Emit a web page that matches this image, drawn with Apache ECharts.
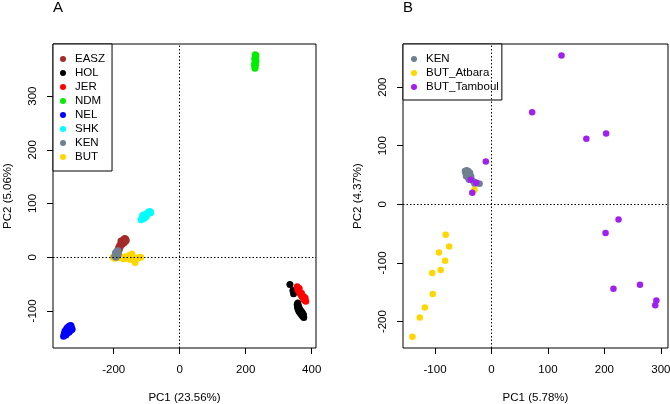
<!DOCTYPE html>
<html>
<head>
<meta charset="utf-8">
<script src="https://cdn.jsdelivr.net/npm/echarts@6/dist/echarts.min.js"></script>
<style>html,body{margin:0;padding:0;background:#fff;}#c{width:670px;height:404px;}</style>
</head>
<body>
<div id="c"></div>
<script>
// ---- Panel A data (PC1, PC2) ----
const namesA = ['EASZ','HOL','JER','NDM','NEL','SHK','KEN','BUT'];
const colorsA = ['#A52A2A','#000000','#FF0000','#00EE00','#0000FF','#00FFFF','#708090','#FFD700'];
const EASZ = [[-188,12],[-186,8],[-185,18],[-183,15],[-182,22],[-180,20],[-178,25],[-178,30],[-175,28],[-174,24],[-172,30],[-170,33],[-168,27],[-167,35],[-165,30],[-164,34],[-162,31]];
const HOL = [[334,-51],[343,-62],[345,-68],[356,-88],[357,-93],[358,-85],[359,-97],[360,-91],[361,-100],[363,-96],[364,-103],[367,-105],[368,-100],[370,-108],[372,-104],[373,-110],[375,-107],[376,-112]];
const JER = [[356,-55],[358,-60],[361,-63],[362,-58],[364,-66],[367,-69],[369,-67],[370,-72],[373,-75],[375,-73],[376,-78],[379,-80],[380,-76],[382,-82]];
const NDM = [[228,352],[227,357],[229,356],[227,360],[230,360],[230,364],[231,366],[228,368],[228,370],[229,372],[231,375],[229,377]];
const NEL = [[-352,-147],[-350,-143],[-348,-138],[-347,-140],[-345,-145],[-345,-136],[-342,-132],[-340,-141],[-338,-130],[-337,-134],[-335,-139],[-334,-128],[-330,-127],[-330,-136],[-328,-131],[-326,-134]];
const SHK = [[-117,70],[-114,73],[-112,78],[-110,75],[-108,72],[-106,77],[-103,80],[-101,76],[-100,79],[-97,82],[-94,84],[-90,85],[-88,83]];
const KEN_A = [[-197,2],[-195,8],[-193,5],[-193,0],[-191,11],[-190,7],[-189,3],[-187,12],[-186,6]];
const BUT = [[-202,0],[-198,-2],[-190,2],[-185,-1],[-178,0],[-170,-3],[-165,1],[-160,-2],[-152,3],[-150,-4],[-145,6],[-140,-1],[-135,-10],[-132,-3],[-125,-1],[-118,0]];
const seriesDataA = [EASZ, HOL, JER, NDM, NEL, SHK, KEN_A, BUT];

// ---- Panel B data (PC1, PC2) ----
const namesB = ['KEN','BUT_Atbara','BUT_Tamboul'];
const colorsB = ['#708090','#FFD700','#A020F0'];
const KEN_B = [[-47,57],[-44,58],[-41,57],[-46,53],[-43,51],[-40,52],[-38,54],[-45,48],[-42,46],[-39,47],[-36,48],[-37,44],[-40,42],[-35,42],[-33,40],[-31,38],[-28,37],[-30,35],[-25,36],[-21,35]];
const BUT_Atbara = [[-81,-52],[-75,-72],[-93,-82],[-82,-96],[-90,-112],[-105,-117],[-104,-153],[-118,-176],[-127,-193],[-140,-226],[-30,25]];
const BUT_Tamboul = [[124,254],[72,157],[168,112],[203,121],[-10,73],[-37,42],[-27,37],[-34,20],[202,-49],[225,-26],[216,-144],[263,-137],[292,-164],[290,-172]];
const seriesDataB = [KEN_B, BUT_Atbara, BUT_Tamboul];

// ---- Axis ticks ----
const xTicksA = [-200,0,200,400];
const yTicksA = [-100,0,100,200,300];
const xTicksB = [-100,0,100,200,300];
const yTicksB = [-200,-100,0,100,200];

const FONT = '"Liberation Sans", Arial, Helvetica, sans-serif';
const FS = 11.5;

function xAxis(gridIndex, min, max, ticks, name) {
  return {
    type:'value', gridIndex, min, max, name, nameLocation:'middle', nameGap:44,
    nameTextStyle:{fontSize:FS, fontFamily:FONT, color:'#000'},
    axisLine:{show:false, onZero:false}, splitLine:{show:false},
    axisTick:{show:true, inside:false, length:6, customValues:ticks, lineStyle:{color:'#000', width:1}},
    axisLabel:{customValues:ticks, margin:16, fontSize:FS, fontFamily:FONT, color:'#000'}
  };
}
function yAxis(gridIndex, min, max, ticks, name) {
  return {
    type:'value', gridIndex, min, max, name, nameLocation:'middle', nameGap:39,
    nameTextStyle:{fontSize:FS, fontFamily:FONT, color:'#000'},
    axisLine:{show:false, onZero:false}, splitLine:{show:false},
    axisTick:{show:true, inside:false, length:6, customValues:ticks, lineStyle:{color:'#000', width:1}},
    axisLabel:{customValues:ticks, margin:14, rotate:90, fontSize:FS, fontFamily:FONT, color:'#000'}
  };
}
const zeroLine = {
  silent:true, symbol:['none','none'], label:{show:false},
  lineStyle:{type:[1.5,2], color:'#000', width:1}, emphasis:{disabled:true},
  animation:false, z:10,
  data:[{xAxis:0},{yAxis:0}]
};

const series = [];
namesA.forEach((n,i) => {
  const s = {name:n, type:'scatter', xAxisIndex:0, yAxisIndex:0, data:seriesDataA[i],
    symbolSize:7, itemStyle:{color:colorsA[i], opacity:1}, z: n === 'KEN' ? 3 : 2};
  if (i === namesA.length-1) s.markLine = zeroLine;
  series.push(s);
});
namesB.forEach((n,i) => {
  const s = {name:n, type:'scatter', xAxisIndex:1, yAxisIndex:1, data:seriesDataB[i],
    symbolSize:6.5, itemStyle:{color:colorsB[i], opacity:1}};
  if (i === namesB.length-1) s.markLine = zeroLine;
  series.push(s);
});

const legendCommon = {
  orient:'vertical', icon:'circle', itemWidth:14, itemHeight:6, itemGap:0,
  borderColor:'#000', borderWidth:1, borderRadius:0, backgroundColor:'#fff',
  textStyle:{fontSize:FS, fontFamily:FONT, color:'#000', lineHeight:14},
  selectedMode:false
};

const option = {
  animation:false,
  backgroundColor:'#fff',
  title:[
    {text:'A', left:53, top:0, padding:0, textStyle:{fontSize:15, fontWeight:'normal', fontFamily:FONT, color:'#000'}},
    {text:'B', left:403, top:0, padding:0, textStyle:{fontSize:15, fontWeight:'normal', fontFamily:FONT, color:'#000'}}
  ],
  grid:[
    {left:53, top:44, width:263, height:304, outerBoundsMode:'none', containLabel:false, show:true, borderColor:'#000', borderWidth:1, backgroundColor:'transparent'},
    {left:403, top:44, width:265, height:304, outerBoundsMode:'none', containLabel:false, show:true, borderColor:'#000', borderWidth:1, backgroundColor:'transparent'}
  ],
  xAxis:[ xAxis(0,-384,413,xTicksA,'PC1 (23.56%)'), xAxis(1,-156.7,312.6,xTicksB,'PC1 (5.78%)') ],
  yAxis:[ yAxis(0,-169,397,yTicksA,'PC2 (5.06%)'), yAxis(1,-245,273.5,yTicksB,'PC2 (4.37%)') ],
  legend:[
    Object.assign({}, legendCommon, {left:53, top:44, padding:[8,7,7,7], data:namesA}),
    Object.assign({}, legendCommon, {left:403, top:44, padding:[8,3,6,8], data:namesB})
  ],
  series
};
const chart = echarts.init(document.getElementById('c'), null, {renderer:'canvas'});
chart.setOption(option);
</script>
</body>
</html>
